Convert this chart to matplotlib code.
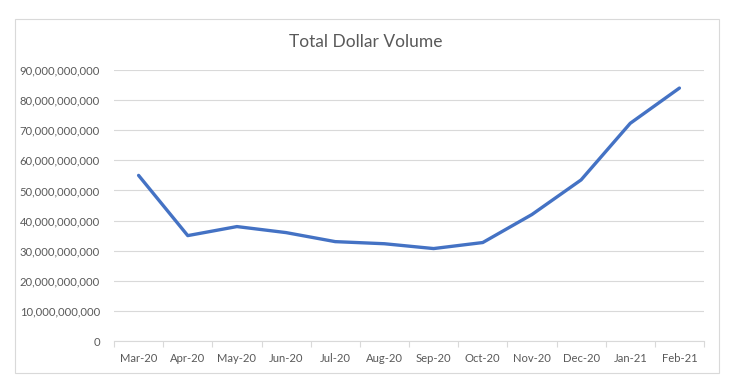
import matplotlib
matplotlib.use("Agg")
import matplotlib.pyplot as plt
from matplotlib.patches import Rectangle
from matplotlib.ticker import FuncFormatter, FixedLocator

# data
months = ["Mar-20", "Apr-20", "May-20", "Jun-20", "Jul-20", "Aug-20",
          "Sep-20", "Oct-20", "Nov-20", "Dec-20", "Jan-21", "Feb-21"]
volume = [55.0e9, 35.0e9, 38.0e9, 36.0e9, 33.0e9, 32.3e9,
          30.7e9, 32.7e9, 42.0e9, 53.5e9, 72.3e9, 84.0e9]
yticks = [i * 10e9 for i in range(10)]

txt = "#595959"
plt.rcParams['font.family'] = ['Lato', 'DejaVu Sans']

fig = plt.figure(figsize=(7.34, 3.88), dpi=100)
W, H = 734, 388
# chart border
fig.patches.append(Rectangle((15 / W, 1 - 373 / H), (719 - 15) / W, (373 - 19) / H,
                             transform=fig.transFigure, fill=False,
                             edgecolor="#d9d9d9", linewidth=0.8))

ax = fig.add_axes([114 / W, 1 - 341 / H, (704 - 114) / W, (341 - 70) / H])
x = range(len(months))
ax.plot(x, volume, color="#4472C4", linewidth=2.4, solid_capstyle="round",
        solid_joinstyle="round", zorder=3)

ax.set_xlim(-0.5, len(months) - 0.5)
ax.set_ylim(0, 90e9)
ax.set_yticks(yticks)
ax.yaxis.set_major_formatter(FuncFormatter(lambda v, p: f"{int(round(v)):,}"))
ax.grid(axis="y", color="#d9d9d9", linewidth=0.8)
ax.set_axisbelow(True)

ax.set_xticks(list(x))
ax.set_xticklabels(months)
ax.xaxis.set_minor_locator(FixedLocator([i - 0.5 for i in range(len(months) + 1)]))
ax.tick_params(axis="x", which="major", length=0, pad=9, labelsize=8.1, labelcolor=txt)
ax.tick_params(axis="x", which="minor", length=4, color="#d9d9d9", width=0.8)
ax.tick_params(axis="y", length=0, pad=10, labelsize=8.1, labelcolor=txt)

for s in ["top", "right", "left"]:
    ax.spines[s].set_visible(False)
ax.spines["bottom"].set_color("#d9d9d9")
ax.spines["bottom"].set_linewidth(0.8)

fig.text(366 / W, 1 - 42 / H, "Total Dollar Volume",
         ha="center", va="center", fontsize=12.5, color=txt)

fig.savefig("out.png", dpi=100)
